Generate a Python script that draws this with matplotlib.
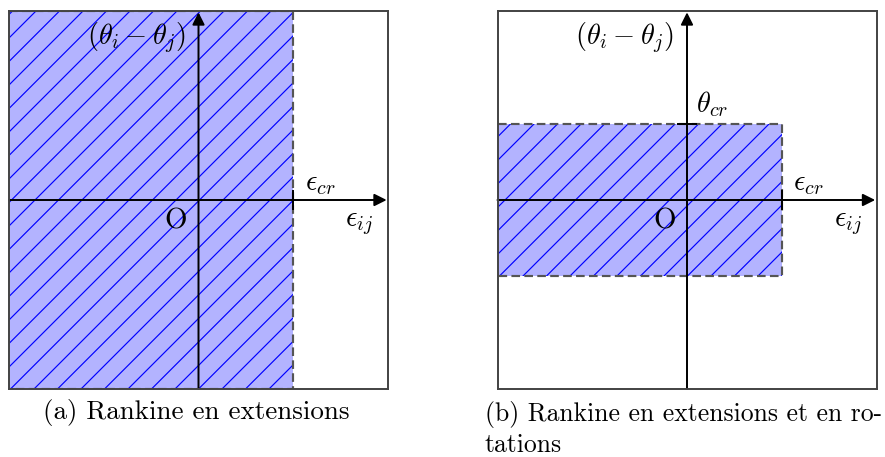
import matplotlib
matplotlib.use('Agg')
import matplotlib.pyplot as plt
from matplotlib.patches import Rectangle

# Chart data.
epsCr = 0.5
thetaCr = 0.4
regionX = [(-1.0, epsCr), (-1.0, epsCr)]
regionY = [(-1.0, 1.0), (-thetaCr, thetaCr)]
showThetaCr = [False, True]
captions = ['(a) Rankine en extensions',
            '(b) Rankine en extensions et en ro-\ntations']

plt.rcParams['mathtext.fontset'] = 'cm'
plt.rcParams['hatch.linewidth'] = 0.6
plt.rcParams['hatch.color'] = 'blue'

DPI = 141
W, H = 885, 457
fig = plt.figure(figsize=(W / DPI, H / DPI), dpi=DPI)

# Axes boxes in pixels (left, top, right, bottom).
boxes = [(9, 11, 388, 389), (497.5, 11, 876.5, 389)]
fsMath = 14.5
fsText = 13.8

for i, (l, t, r, b) in enumerate(boxes):
  ax = fig.add_axes([l / W, (H - b) / H, (r - l) / W, (b - t) / H])
  ax.set_xlim(-1, 1)
  ax.set_ylim(-1, 1)
  ax.set_xticks([])
  ax.set_yticks([])
  for s in ax.spines.values():
    s.set_color('#444444')
    s.set_linewidth(1.0)
    s.set_zorder(5)

  # Shaded region.
  x0, x1 = regionX[i]
  y0, y1 = regionY[i]
  ax.add_patch(Rectangle((x0, y0), x1 - x0, y1 - y0, facecolor='#b3b3ff',
                         edgecolor='blue', hatch='//', lw=0, zorder=1))
  ax.plot([x0, x1, x1, x0], [y1, y1, y0, y0], color='#555555', lw=1.1,
          linestyle=(0, (4, 2)), zorder=2)

  # Coordinate axes.
  arrow = dict(arrowstyle='-|>', lw=1.0, color='black', mutation_scale=13,
               shrinkA=0, shrinkB=0)
  ax.annotate('', xy=(0.993, 0), xytext=(-1, 0), arrowprops=arrow, zorder=4)
  ax.annotate('', xy=(0, 0.993), xytext=(0, -1), arrowprops=arrow, zorder=4)

  # Ticks at critical values.
  ax.plot([x1, x1], [-0.045, 0.045], color='black', lw=1.0, zorder=3)
  if showThetaCr[i]:
    ax.plot([-0.045, 0.045], [thetaCr, thetaCr], color='black', lw=1.0, zorder=3)
    ax.text(0.05, thetaCr + 0.11, r'$\theta_{cr}$', fontsize=fsMath, ha='left', va='center')

  # Labels.
  ax.text(-0.33, 0.86, r'$(\theta_i - \theta_j)$', fontsize=fsMath, ha='center', va='center')
  ax.text(x1 + 0.06, 0.09, r'$\epsilon_{cr}$', fontsize=fsMath, ha='left', va='center')
  ax.text(0.775, -0.12, r'$\epsilon_{ij}$', fontsize=fsMath, ha='left', va='center')
  ax.text(-0.12, -0.115, 'O', fontsize=fsText + 1, family='cmr10', ha='center', va='center')

# Captions.
fig.text(196.5 / W, 1 - 413 / H, captions[0], fontsize=fsText, family='cmr10',
         ha='center', va='center')
fig.text(485 / W, 1 - 401 / H, captions[1], fontsize=13.1, family='cmr10',
         ha='left', va='top', linespacing=1.3)

fig.savefig('out.png', dpi=DPI)
